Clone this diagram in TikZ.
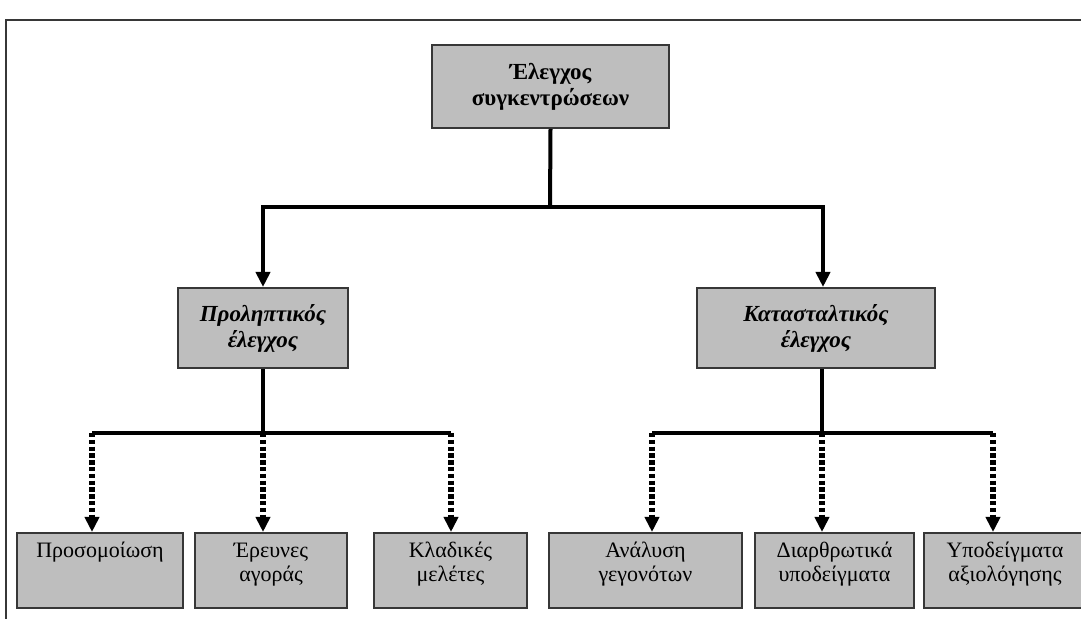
\documentclass[tikz,border=0pt]{standalone}
\usepackage{fontspec}
\setmainfont{Liberation Serif}
\usetikzlibrary{arrows.meta}
\definecolor{boxgray}{RGB}{190,190,190}
\definecolor{edgegray}{RGB}{55,55,55}
\begin{document}
\begin{tikzpicture}[x=.5pt,y=-.5pt,line width=2.4pt,
>={Triangle[length=7.5pt,width=7pt]},
box/.style={draw=edgegray,line width=1pt,fill=boxgray,align=center,inner sep=2pt},
leaf/.style={box,minimum height=37.5pt,text depth=8.5pt,font=\fontsize{11}{12}\selectfont},
mid/.style={box,minimum height=40pt,font=\fontsize{11.5}{13}\selectfont\bfseries\itshape},
dashline/.style={dash pattern=on 2.2pt off 1.2pt,line width=2.6pt},
font=\fontsize{11}{12}\selectfont]
\useasboundingbox (0,0) rectangle (1081,619);
\draw[edgegray,line width=1.1pt] (6,619)--(6,20)--(1081,20);
% boxes
\node[box,minimum width=118.5pt,minimum height=41.5pt,
font=\fontsize{11.5}{13}\selectfont\bfseries] (top) at (550.5,86.5) {Έλεγχος\\συγκεντρώσεων};
\node[mid,minimum width=85pt] (prol) at (263,328) {Προληπτικός\\έλεγχος};
\node[mid,minimum width=119pt] (kata) at (816,328) {Κατασταλτικός\\έλεγχος};
\node[leaf,minimum width=83pt] (sim) at (100,570.5) {Προσομοίωση\\~};
\node[leaf,minimum width=76pt] (mark) at (271,570.5) {Έρευνες\\αγοράς};
\node[leaf,minimum width=76.5pt] (klad) at (450.5,570.5) {Κλαδικές\\μελέτες};
\node[leaf,minimum width=96.5pt] (anal) at (645.5,570.5) {Ανάλυση\\γεγονότων};
\node[leaf,minimum width=79.5pt] (diar) at (834.5,570.5) {Διαρθρωτικά\\υποδείγματα};
\node[leaf,minimum width=81pt] (axio) at (1005,570.5) {Υποδείγματα\\αξιολόγησης};
% junctions
\coordinate (hub) at (550,207);
\coordinate (pj) at (263,433);
\coordinate (pa) at (92,433);
\coordinate (pb) at (451,433);
\coordinate (kj) at (822,433);
\coordinate (ka) at (652,433);
\coordinate (kb) at (993,433);
% top level
\draw[line width=2pt] (top.south) -- (hub);
\draw[->] (hub) -| (prol.north);
\draw[->] (hub) -| ([xshift=3.5pt]kata.north);
% left branch
\draw (prol.south) -- (pj);
\draw (pa) -- (pb);
\draw[dashline,->] (pa) -- (pa |- sim.north);
\draw[dashline,->] (pj) -- (pj |- mark.north);
\draw[dashline,->] (pb) -- (pb |- klad.north);
% right branch
\draw ([xshift=3pt]kata.south) -- (kj);
\draw (ka) -- (kb);
\draw[dashline,->] (ka) -- (ka |- anal.north);
\draw[dashline,->] (kj) -- (kj |- diar.north);
\draw[dashline,->] (kb) -- (kb |- axio.north);
\end{tikzpicture}
\end{document}
